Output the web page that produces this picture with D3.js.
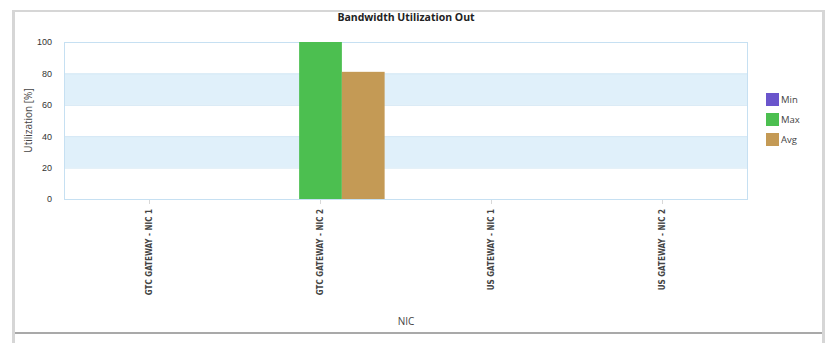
<!DOCTYPE html>
<html>
<head>
<meta charset="utf-8">
<script src="https://cdn.jsdelivr.net/npm/d3@7"></script>
<style>
  body { margin: 0; background: #fff; }
  svg { display: block; font-family: "Open Sans", "DejaVu Sans", sans-serif; }
</style>
</head>
<body>
<div class="panel"></div>
<script>
const width = 829;
const height = 343;
const margins = {top: 42, right: 82, bottom: 144, left: 64};

const categories = ["GTC GATEWAY - NIC 1", "GTC GATEWAY - NIC 2", "US GATEWAY - NIC 1", "US GATEWAY - NIC 2"];
const seriesNames = ["Min", "Max", "Avg"];
const minValues = [0, 0, 0, 0];
const maxValues = [0, 100, 0, 0];
const avgValues = [0, 81, 0, 0];
const yTicks = [0, 20, 40, 60, 80, 100];
const colours = ["#6a55cc", "#4cbf50", "#c49a55"];

const series = [minValues, maxValues, avgValues];

const svg = d3.select(".panel")
  .append("svg")
  .attr("width", width)
  .attr("height", height);

// outer frame
svg.append("rect").attr("x", 12).attr("y", 10).attr("width", 3).attr("height", height - 10).attr("fill", "#d6d6d6");
svg.append("rect").attr("x", 822).attr("y", 10).attr("width", 3).attr("height", height - 10).attr("fill", "#d6d6d6");
svg.append("rect").attr("x", 12).attr("y", 10).attr("width", 813).attr("height", 2).attr("fill", "#d6d6d6");
svg.append("rect").attr("x", 15).attr("y", 332).attr("width", 807).attr("height", 2).attr("fill", "#a9a9a9");

const plotW = width - margins.left - margins.right + 1;
const plotH = height - margins.top - margins.bottom;

const x = d3.scaleBand()
  .domain(categories)
  .range([margins.left, margins.left + plotW]);

const xInner = d3.scaleBand()
  .domain(seriesNames)
  .range([0, x.bandwidth()])
  .paddingOuter(0.5);

const y = d3.scaleLinear()
  .domain([0, 100])
  .range([margins.top + plotH, margins.top]);

// alternating bands
for (let i = 0; i < yTicks.length - 1; ++i) {
  if (i % 2 === 1) {
    svg.append("rect")
      .attr("x", margins.left)
      .attr("y", y(yTicks[i + 1]))
      .attr("width", plotW)
      .attr("height", y(yTicks[i]) - y(yTicks[i + 1]))
      .attr("fill", "#e0f0fa");
  }
}

// grid lines
svg.append("g")
  .selectAll("line")
  .data(yTicks)
  .enter()
  .append("line")
  .attr("x1", margins.left)
  .attr("x2", margins.left + plotW)
  .attr("y1", d => y(d) + 0.5)
  .attr("y2", d => y(d) + 0.5)
  .attr("stroke", "#d3e7f4");

// plot border
svg.append("rect")
  .attr("x", margins.left + 0.5)
  .attr("y", margins.top + 0.5)
  .attr("width", plotW - 1)
  .attr("height", plotH)
  .attr("fill", "none")
  .attr("stroke", "#c6e0f2");

// bars
const groups = svg.append("g")
  .selectAll("g")
  .data(categories)
  .enter()
  .append("g")
  .attr("transform", d => `translate(${x(d)},0)`);

groups.selectAll("rect")
  .data((d, i) => seriesNames.map((s, j) => ({s: s, v: series[j][i], c: colours[j]})))
  .enter()
  .append("rect")
  .attr("x", d => xInner(d.s))
  .attr("y", d => y(d.v))
  .attr("width", xInner.bandwidth())
  .attr("height", d => y(0) - y(d.v))
  .attr("fill", d => d.c);

// y axis
const yAxis = d3.axisLeft(y).tickValues(yTicks).tickSize(0).tickPadding(12);
const yg = svg.append("g")
  .attr("transform", `translate(${margins.left},0)`)
  .call(yAxis);
yg.select(".domain").remove();
yg.selectAll("text").attr("fill", "#333").attr("font-size", 9);

// x axis
const xAxis = d3.axisBottom(x).tickSize(4).tickPadding(6);
const xg = svg.append("g")
  .attr("transform", `translate(0,${margins.top + plotH + 1})`)
  .call(xAxis);
xg.select(".domain").remove();
xg.selectAll(".tick line").attr("stroke", "#d8d8d8");
xg.selectAll("text")
  .attr("font-family", "'DejaVu Sans Condensed', 'Liberation Sans Narrow', sans-serif")
  .attr("font-weight", "bold")
  .attr("font-size", 8)
  .attr("fill", "#444")
  .attr("transform", "rotate(-90)")
  .attr("text-anchor", "end")
  .attr("x", -9)
  .attr("y", 0)
  .attr("dy", "0.32em");

// title
svg.append("text")
  .attr("x", margins.left + plotW / 2)
  .attr("y", 21)
  .attr("text-anchor", "middle")
  .attr("font-weight", "bold")
  .attr("font-size", 10.5)
  .attr("fill", "#222")
  .text("Bandwidth Utilization Out");

// axis titles
svg.append("text")
  .attr("transform", `translate(32,${margins.top + plotH / 2}) rotate(-90)`)
  .attr("text-anchor", "middle")
  .attr("font-size", 10)
  .attr("fill", "#444")
  .text("Utilization [%]");

svg.append("text")
  .attr("x", margins.left + plotW / 2)
  .attr("y", 325)
  .attr("text-anchor", "middle")
  .attr("font-size", 10)
  .attr("fill", "#444")
  .text("NIC");

// legend
const legend = svg.append("g").attr("transform", "translate(766,93)");
seriesNames.forEach((s, i) => {
  legend.append("rect")
    .attr("x", 0)
    .attr("y", i * 20)
    .attr("width", 13)
    .attr("height", 13)
    .attr("fill", colours[i]);
  legend.append("text")
    .attr("x", 15)
    .attr("y", i * 20 + 10)
    .attr("font-size", 9.5)
    .attr("fill", "#444")
    .text(s);
});
</script>
</body>
</html>
